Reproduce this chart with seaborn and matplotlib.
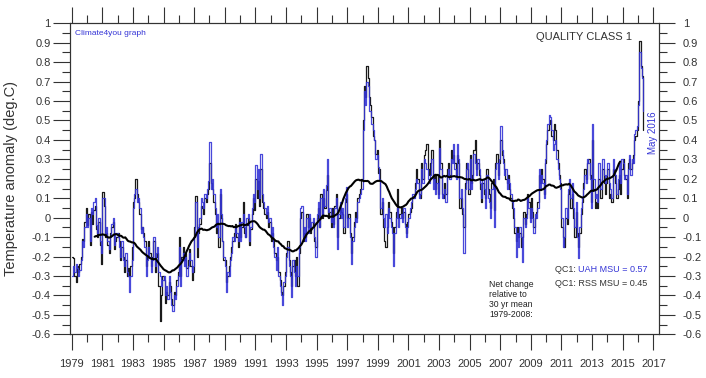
import numpy as np
import pandas as pd
import matplotlib
matplotlib.use("Agg")
import matplotlib.pyplot as plt
import seaborn as sns
from matplotlib.ticker import MultipleLocator

START_YEAR = 1979

# monthly anomalies (deg C, rel. 1979-2008), one row per year
UAH_ROWS = [
    [-0.30, -0.25, -0.28, -0.24, -0.26, -0.30, -0.27, -0.22, -0.12, -0.15, -0.05, 0.02],  # 1979
    [-0.05, 0.00, -0.12, 0.05, 0.02, 0.08, 0.10, -0.04, -0.08, 0.00, -0.12, -0.18],
    [0.10, 0.10, -0.08, -0.05, -0.12, -0.16, -0.10, -0.03, 0.00, -0.14, -0.08, -0.08],
    [-0.10, -0.15, -0.20, -0.12, -0.22, -0.25, -0.18, -0.28, -0.30, -0.38, -0.30, -0.22],
    [0.05, 0.12, 0.15, 0.08, 0.10, 0.05, -0.08, -0.05, -0.10, -0.15, -0.30, -0.22],
    [-0.15, -0.20, -0.28, -0.22, -0.10, -0.25, -0.18, -0.15, -0.28, -0.30, -0.35, -0.32],
    [-0.30, -0.40, -0.35, -0.42, -0.30, -0.38, -0.45, -0.48, -0.40, -0.42, -0.35, -0.30],
    [-0.15, -0.35, -0.22, -0.18, -0.25, -0.20, -0.30, -0.25, -0.18, -0.22, -0.28, -0.25],
    [-0.10, 0.08, -0.15, -0.05, 0.00, 0.10, 0.08, 0.05, 0.12, 0.10, 0.15, 0.19],
    [0.39, 0.15, 0.20, 0.12, 0.05, -0.05, 0.02, -0.10, 0.15, 0.02, -0.12, -0.20],
    [-0.25, -0.38, -0.28, -0.30, -0.22, -0.18, -0.10, -0.12, -0.05, -0.08, -0.12, -0.02],  # 1989
    [-0.12, -0.02, 0.02, -0.05, -0.10, 0.00, 0.02, -0.12, -0.05, 0.05, 0.12, 0.08],
    [0.27, 0.15, 0.25, 0.10, 0.33, 0.12, 0.08, 0.05, 0.02, 0.06, -0.02, 0.00],
    [-0.10, -0.05, -0.15, -0.20, -0.27, -0.15, -0.30, -0.35, -0.40, -0.45, -0.33, -0.30],
    [-0.20, -0.15, -0.25, -0.30, -0.41, -0.22, -0.28, -0.35, -0.25, -0.30, -0.15, 0.05],
    [0.06, -0.10, -0.05, -0.12, 0.00, -0.08, 0.02, -0.05, -0.02, 0.00, -0.10, -0.20],
    [0.02, 0.08, -0.05, 0.10, 0.02, 0.15, 0.06, 0.17, 0.30, 0.03, 0.05, -0.02],
    [0.00, -0.05, 0.05, 0.10, -0.16, 0.02, 0.08, 0.00, 0.05, -0.05, 0.10, 0.16],
    [-0.05, 0.00, -0.10, -0.24, -0.12, -0.05, 0.00, -0.02, 0.08, 0.10, 0.12, 0.15],
    [0.45, 0.65, 0.58, 0.70, 0.68, 0.55, 0.55, 0.48, 0.45, 0.40, 0.30, 0.32],
    [0.26, 0.20, 0.05, 0.10, 0.00, -0.05, 0.02, -0.08, 0.05, 0.00, -0.05, -0.08],  # 1999
    [-0.25, -0.08, 0.00, 0.05, -0.05, 0.00, 0.02, -0.02, 0.05, -0.05, -0.10, -0.05],
    [0.00, 0.05, 0.08, 0.12, 0.10, 0.15, 0.20, 0.18, 0.10, 0.12, 0.25, 0.18],
    [0.30, 0.28, 0.25, 0.20, 0.18, 0.22, 0.30, 0.15, 0.20, 0.12, 0.18, 0.10],
    [0.36, 0.25, 0.10, 0.12, 0.15, 0.08, 0.22, 0.25, 0.20, 0.30, 0.28, 0.38],
    [0.25, 0.20, 0.38, 0.30, 0.10, 0.15, 0.05, -0.18, 0.15, 0.25, 0.28, 0.15],
    [0.30, 0.15, 0.20, 0.33, 0.28, 0.22, 0.30, 0.25, 0.18, 0.10, 0.20, 0.15],
    [0.05, 0.22, 0.10, 0.08, 0.00, 0.15, 0.18, -0.05, 0.25, 0.28, 0.20, 0.30],
    [0.47, 0.35, 0.28, 0.22, 0.25, 0.15, 0.20, 0.18, 0.12, 0.08, 0.05, -0.05],
    [-0.20, -0.08, -0.15, -0.05, -0.10, -0.23, 0.00, -0.05, 0.00, 0.10, 0.05, -0.02],
    [0.05, 0.00, -0.08, 0.02, 0.00, 0.05, 0.25, 0.15, 0.22, 0.18, 0.10, 0.30],  # 2009
    [0.40, 0.48, 0.53, 0.52, 0.45, 0.35, 0.38, 0.40, 0.30, 0.25, 0.20, 0.15],
    [0.00, -0.15, -0.10, 0.05, 0.00, 0.15, 0.20, 0.10, 0.18, 0.05, -0.05, 0.08],
    [-0.10, -0.21, -0.05, 0.05, 0.10, 0.15, 0.22, 0.18, 0.30, 0.28, 0.20, 0.05],
    [0.48, 0.20, 0.10, 0.12, 0.08, 0.28, 0.15, 0.15, 0.30, 0.22, 0.18, 0.22],
    [0.28, 0.18, 0.15, 0.10, 0.30, 0.25, 0.22, 0.12, 0.20, 0.28, 0.18, 0.30],
    [0.28, 0.20, 0.22, 0.12, 0.25, 0.32, 0.22, 0.30, 0.28, 0.43, 0.45, 0.47],
    [0.58, 0.85, 0.77, 0.72, 0.55],  # 2016 Jan-May
]

RSS_ROWS = [
    [-0.20, -0.21, -0.30, -0.33, -0.25, -0.28, -0.24, -0.20, -0.11, -0.12, -0.02, 0.05],  # 1979
    [-0.04, 0.02, -0.14, 0.03, -0.03, 0.04, 0.06, -0.06, -0.10, -0.02, -0.14, -0.24],
    [0.13, 0.06, -0.10, -0.08, -0.14, -0.18, -0.08, -0.05, -0.02, -0.16, -0.12, -0.10],
    [-0.08, -0.12, -0.22, -0.15, -0.20, -0.28, -0.22, -0.30, -0.26, -0.30, -0.25, -0.15],
    [0.08, 0.10, 0.20, 0.12, 0.08, 0.02, -0.06, -0.05, -0.08, -0.12, -0.25, -0.20],
    [-0.12, -0.18, -0.25, -0.20, -0.12, -0.28, -0.20, -0.18, -0.35, -0.53, -0.40, -0.30],
    [-0.32, -0.44, -0.38, -0.40, -0.33, -0.35, -0.42, -0.45, -0.38, -0.40, -0.32, -0.28],
    [-0.10, -0.30, -0.20, -0.15, -0.22, -0.18, -0.26, -0.22, -0.16, -0.25, -0.32, -0.28],
    [-0.05, 0.11, -0.20, -0.08, -0.03, 0.06, 0.05, 0.02, 0.10, 0.08, 0.12, 0.15],
    [0.28, 0.18, 0.15, 0.08, 0.02, -0.08, -0.02, -0.15, 0.12, 0.00, -0.12, -0.22],
    [-0.22, -0.33, -0.30, -0.25, -0.20, -0.15, -0.12, -0.08, -0.03, -0.10, -0.15, 0.00],  # 1989
    [-0.10, -0.05, 0.08, -0.08, -0.10, -0.04, 0.00, -0.14, -0.06, 0.02, 0.10, 0.04],
    [0.20, 0.10, 0.19, 0.06, 0.25, 0.08, 0.05, 0.02, 0.00, 0.03, -0.05, -0.02],
    [-0.12, -0.08, -0.12, -0.18, -0.22, -0.20, -0.28, -0.32, -0.38, -0.40, -0.35, -0.28],
    [-0.18, -0.12, -0.22, -0.28, -0.35, -0.25, -0.22, -0.30, -0.20, -0.35, -0.18, 0.00],
    [0.03, -0.12, -0.08, -0.10, 0.02, -0.05, 0.00, -0.08, -0.05, -0.02, -0.12, -0.15],
    [0.00, 0.05, -0.05, 0.12, 0.00, 0.10, 0.05, 0.14, 0.22, 0.00, 0.03, -0.05],
    [0.05, -0.03, 0.06, 0.12, -0.10, 0.00, 0.05, 0.03, 0.02, -0.08, 0.08, 0.12],
    [0.00, 0.02, -0.08, -0.18, -0.10, -0.02, 0.03, 0.00, 0.10, 0.12, 0.15, 0.20],
    [0.50, 0.68, 0.62, 0.78, 0.72, 0.62, 0.58, 0.52, 0.42, 0.40, 0.33, 0.35],
    [0.23, 0.25, 0.02, 0.08, -0.05, -0.12, -0.15, -0.05, 0.08, 0.03, -0.02, -0.05],  # 1999
    [-0.18, -0.05, 0.03, 0.15, 0.00, 0.02, 0.05, 0.00, 0.03, -0.03, -0.08, -0.02],
    [0.02, 0.03, 0.05, 0.10, 0.12, 0.18, 0.25, 0.20, 0.12, 0.10, 0.28, 0.20],
    [0.32, 0.35, 0.38, 0.25, 0.22, 0.28, 0.35, 0.20, 0.22, 0.15, 0.22, 0.12],
    [0.40, 0.28, 0.12, 0.10, 0.18, 0.12, 0.25, 0.28, 0.22, 0.35, 0.30, 0.32],
    [0.28, 0.22, 0.32, 0.28, 0.05, 0.10, 0.02, -0.05, 0.18, 0.28, 0.25, 0.12],
    [0.32, 0.18, 0.22, 0.35, 0.40, 0.25, 0.28, 0.22, 0.15, 0.08, 0.18, 0.12],
    [0.10, 0.25, 0.15, 0.12, 0.05, 0.18, 0.20, 0.04, 0.28, 0.33, 0.22, 0.28],
    [0.40, 0.32, 0.30, 0.25, 0.20, 0.18, 0.22, 0.15, 0.10, 0.05, 0.00, -0.08],
    [-0.12, -0.05, -0.10, -0.08, -0.15, -0.10, 0.03, -0.03, 0.02, 0.12, 0.08, 0.00],
    [0.10, 0.03, -0.05, 0.00, 0.03, 0.08, 0.22, 0.18, 0.25, 0.20, 0.12, 0.28],  # 2009
    [0.38, 0.45, 0.48, 0.50, 0.42, 0.40, 0.48, 0.45, 0.35, 0.28, 0.22, 0.18],
    [-0.05, -0.10, -0.15, 0.00, -0.03, 0.12, 0.15, 0.05, 0.12, 0.00, -0.10, 0.03],
    [-0.08, -0.15, -0.08, 0.02, 0.08, 0.18, 0.25, 0.20, 0.28, 0.30, 0.22, 0.08],
    [0.40, 0.15, 0.05, 0.08, 0.05, 0.20, 0.10, 0.10, 0.25, 0.18, 0.12, 0.18],
    [0.25, 0.10, 0.12, 0.08, 0.25, 0.22, 0.18, 0.10, 0.15, 0.22, 0.12, 0.25],
    [0.30, 0.22, 0.20, 0.10, 0.28, 0.30, 0.25, 0.28, 0.32, 0.40, 0.42, 0.45],
    [0.60, 0.91, 0.78, 0.73, 0.45],  # 2016 Jan-May
]

X_TICKS = list(range(1979, 2018, 2))
Y_TICKS = [-0.6, -0.5, -0.4, -0.3, -0.2, -0.1, 0.0, 0.1, 0.2, 0.3, 0.4, 0.5, 0.6, 0.7, 0.8, 0.9, 1.0]
Y_LABELS = ["-0.6", "-0.5", "-0.4", "-0.3", "-0.2", "-0.1", "0", "0.1", "0.2", "0.3",
            "0.4", "0.5", "0.6", "0.7", "0.8", "0.9", "1"]

BLUE = "#3535d6"
DARK = "#333333"

sns.set_style("ticks")
plt.rcParams['font.family'] = ['Liberation Sans', 'DejaVu Sans']

uah = np.concatenate(UAH_ROWS)
rss = np.concatenate(RSS_ROWS)
df = pd.DataFrame({
    'year': START_YEAR + np.arange(len(uah)) / 12.0,
    'uah': uah,
    'rss': rss,
})
# 37-month centred running mean of the two series
df['run37'] = ((df['uah'] + df['rss']) / 2).rolling(37, center=True).mean()

fig = plt.figure(figsize=(7.06, 3.78), dpi=100)
ax = fig.add_axes([70 / 706, 43.7 / 378, 589.3 / 706, 311 / 378])

sns.lineplot(data=df, x='year', y='rss', ax=ax, color='#1a1a1a', lw=0.9,
             drawstyle='steps-post', estimator=None)
sns.lineplot(data=df, x='year', y='uah', ax=ax, color=BLUE, lw=0.9, alpha=0.9,
             drawstyle='steps-post', estimator=None)
sns.lineplot(data=df.dropna(), x='year', y='run37', ax=ax, color='black', lw=1.5,
             estimator=None)

ax.set_xlim(1978.89, 2017.39)
ax.set_ylim(-0.6, 1.0)
ax.set_xlabel("")
ax.set_ylabel("Temperature anomaly (deg.C)", fontsize=10.5, color=DARK)
ax.yaxis.set_label_coords(-0.088, 0.5)

ax.set_xticks(X_TICKS, labels=[str(y) for y in X_TICKS])
ax.xaxis.set_minor_locator(MultipleLocator(1))
ax.set_yticks(Y_TICKS, labels=Y_LABELS)
ax.yaxis.set_minor_locator(MultipleLocator(0.05))
ax.tick_params(axis='x', which='major', direction='out', length=11.5, width=0.8,
               top=True, pad=6.5, labelsize=8, colors=DARK)
ax.tick_params(axis='x', which='minor', direction='out', length=5.8, width=0.8,
               top=True, colors=DARK)
ax.tick_params(axis='y', which='major', direction='out', length=12, width=0.8,
               right=False, pad=2, labelsize=8, colors=DARK)
ax.tick_params(axis='y', which='minor', direction='out', length=5.8, width=0.8,
               right=False, colors=DARK)

ax_r = ax.twinx()
ax_r.set_ylim(-0.6, 1.0)
ax_r.set_yticks(Y_TICKS, labels=Y_LABELS)
ax_r.yaxis.set_minor_locator(MultipleLocator(0.05))
ax_r.tick_params(axis='y', which='major', direction='out', length=11.5, width=0.8,
                 pad=5.5, labelsize=8, colors=DARK)
ax_r.tick_params(axis='y', which='minor', direction='out', length=5.5, width=0.8, colors=DARK)

for a in (ax, ax_r):
    for s in a.spines.values():
        s.set_visible(True)
        s.set_color(DARK)
        s.set_linewidth(0.8)

ax.text(0.0085, 0.966, "Climate4you graph", transform=ax.transAxes, fontsize=6,
        color=BLUE, ha='left', va='center')
ax.text(0.954, 0.956, "QUALITY CLASS 1", transform=ax.transAxes, fontsize=8,
        color=DARK, ha='right', va='center')
ax.text(0.989, 0.647, "May 2016", transform=ax.transAxes, fontsize=7,
        color=BLUE, rotation=90, ha='center', va='center')
ax.text(0.711, 0.176, "Net change\nrelative to\n30 yr mean\n1979-2008:",
        transform=ax.transAxes, fontsize=6.2, color='#222222', ha='left', va='top',
        linespacing=1.15)

t_uah = ax.text(0.98, 0.207, "UAH MSU = 0.57", transform=ax.transAxes, fontsize=6.5,
                color=BLUE, ha='right', va='center')
ax.text(0.98, 0.162, "QC1: RSS MSU = 0.45", transform=ax.transAxes, fontsize=6.5,
        color=DARK, ha='right', va='center')
fig.canvas.draw()
bb = t_uah.get_window_extent()
x_left = ax.transAxes.inverted().transform((bb.x0, bb.y0))[0]
ax.text(x_left, 0.207, "QC1: ", transform=ax.transAxes, fontsize=6.5,
        color=DARK, ha='right', va='center')

fig.savefig("out.png", dpi=100)
